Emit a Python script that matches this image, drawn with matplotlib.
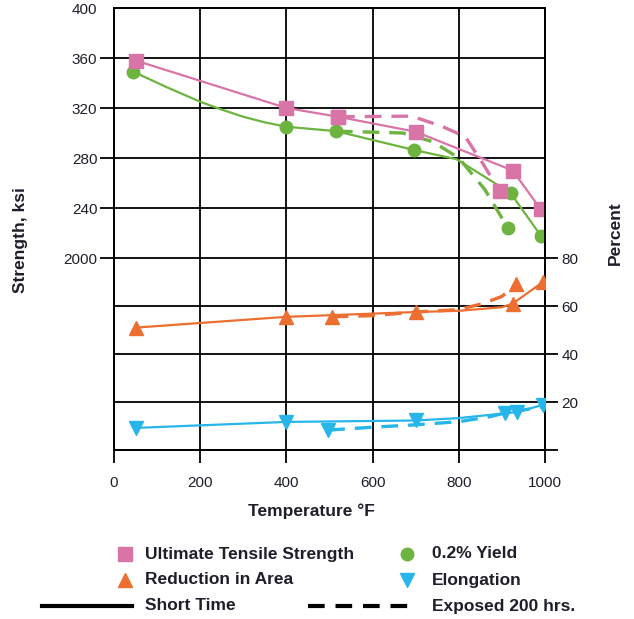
import matplotlib.pyplot as plt
from matplotlib.lines import Line2D

# temperature (F) and values
uts_short_x = [50, 400, 520, 700, 925, 990]
uts_short_y = [358, 320, 313, 301, 270, 239]
uts_exp_x = [520, 690, 760, 815, 855, 895]
uts_exp_y = [313, 313.5, 305.5, 297, 276, 253.5]

yld_short_x = [45, 120, 200, 250, 300, 350, 400, 515, 695, 795, 920, 990]
yld_short_y = [349, 337, 325, 318.7, 313, 308.5, 305, 301.5, 286.5, 279, 252, 218]
yld_exp_x = [515, 670, 740, 800, 860, 914]
yld_exp_y = [301.5, 300, 293, 280, 255, 224]

ra_short_x = [50, 400, 700, 800, 900, 925, 995]
ra_short_y = [51, 55.5, 57.5, 58, 59.5, 61, 70]
ra_exp_x = [505, 600, 700, 800, 855, 900, 932]
ra_exp_y = [55.5, 56, 57.5, 58.5, 61, 64, 69]

el_short_x = [50, 400, 700, 800, 935, 995]
el_short_y = [9.2, 11.7, 12.3, 13.3, 15.8, 18.8]
el_exp_x = [497, 600, 700, 800, 870, 907, 995]
el_exp_y = [8.3, 9.5, 10.5, 11.8, 13.8, 15.4, 18]

x_ticks = [0, 200, 400, 600, 800, 1000]
strength_ticks = [200, 240, 280, 320, 360, 400]
strength_labels = ['2000', '240', '280', '320', '360', '400']
pct_ticks = [0, 20, 40, 60, 80]
pct_labels = ['', '20', '40', '60', '80']

PINK = '#d874a6'
GREEN = '#6cb43f'
ORANGE = '#ec6f31'
BLUE = '#27b6ea'
TXT = '#1e1e2a'

plt.rcParams['font.family'] = ['Liberation Sans', 'DejaVu Sans']

W, H = 634, 619
fig = plt.figure(figsize=(W / 100, H / 100), dpi=100)
ax = fig.add_axes([114 / W, 1 - 450 / H, (545 - 114) / W, (450 - 8) / H])
ax2 = ax.twinx()

ax.set_xlim(0, 1000)
ax.set_ylim(46.4, 400)
ax2.set_ylim(0, 184.2)

# grid
for v in x_ticks[1:-1]:
    ax.axvline(v, color='black', lw=1.3, zorder=1)
for v in strength_ticks[1:-1]:
    ax.axhline(v, color='black', lw=1.3, zorder=1)
for v in pct_ticks[1:]:
    ax2.axhline(v, color='black', lw=1.3, zorder=1)

for a in (ax, ax2):
    for s in a.spines.values():
        s.set_linewidth(1.3)

ax.set_xticks(x_ticks)
ax.set_xticklabels([str(v) for v in x_ticks])
ax.set_yticks(strength_ticks)
ax.set_yticklabels(strength_labels)
ax.tick_params(axis='x', length=9.5, width=1.3, pad=9, labelsize=11, labelcolor=TXT)
ax.tick_params(axis='y', length=10, width=1.3, pad=2, labelsize=11, labelcolor=TXT)
ax.yaxis.get_major_ticks()[-1].tick1line.set_visible(False)

ax2.set_yticks(pct_ticks)
ax2.set_yticklabels(pct_labels)
ax2.tick_params(axis='y', length=9.5, width=1.3, pad=2.5, labelsize=11, labelcolor=TXT)

dash = (5, 3)
# strength curves
ax.plot(uts_short_x, uts_short_y, color=PINK, lw=1.6, marker='s', ms=10,
        markevery=[0, 1, 2, 3, 4, 5], zorder=4)
ax.plot(uts_exp_x, uts_exp_y, color=PINK, lw=2.4, ls='--', dashes=dash,
        marker='s', ms=10, markevery=[0, 5], zorder=4)
ax.plot(yld_short_x, yld_short_y, color=GREEN, lw=1.6, marker='o', ms=9,
        markevery=[0, 6, 7, 8, 10, 11], zorder=3)
ax.plot(yld_exp_x, yld_exp_y, color=GREEN, lw=2.4, ls='--', dashes=dash,
        marker='o', ms=9, markevery=[5], zorder=3)

# percent curves
ax2.plot(ra_short_x, ra_short_y, color=ORANGE, lw=1.6, marker='^', ms=10,
         markevery=[0, 1, 2, 5, 6], zorder=3)
ax2.plot(ra_exp_x, ra_exp_y, color=ORANGE, lw=2.4, ls='--', dashes=dash,
         marker='^', ms=10, markevery=[0, 6], zorder=3)
ax2.plot(el_short_x, el_short_y, color=BLUE, lw=1.6, marker='v', ms=10,
         markevery=[0, 1, 2, 4, 5], zorder=3)
ax2.plot(el_exp_x, el_exp_y, color=BLUE, lw=2.4, ls='--', dashes=dash,
         marker='v', ms=10, markevery=[0, 5], zorder=3)

# axis titles
fig.text(311 / W, 1 - 511 / H, 'Temperature °F', ha='center', va='center',
         fontsize=12.5, fontweight='bold', color=TXT)
fig.text(21 / W, 1 - 240 / H, 'Strength, ksi', ha='center', va='center',
         rotation=90, fontsize=12.5, fontweight='bold', color=TXT)
fig.text(615 / W, 1 - 233 / H, 'Percent', ha='center', va='center',
         rotation=90, fontsize=12.5, fontweight='bold', color=TXT)

# legend
def key_marker(xp, yp, marker, color, ms):
    fig.add_artist(Line2D([xp / W], [1 - yp / H], marker=marker, color=color,
                          ms=ms, ls='none', transform=fig.transFigure))


def key_line(x0, x1, yp, ls):
    kw = dict(color='black', lw=3, transform=fig.transFigure)
    if ls == '--':
        kw['dashes'] = (4, 2.6)
    fig.add_artist(Line2D([x0 / W, x1 / W], [1 - yp / H, 1 - yp / H], **kw))


def key_text(xp, yp, s):
    fig.text(xp / W, 1 - yp / H, s, ha='left', va='center', fontsize=12.5,
             fontweight='bold', color=TXT)


key_marker(125, 554, 's', PINK, 10)
key_text(145, 554, 'Ultimate Tensile Strength')
key_marker(407, 554, 'o', GREEN, 9)
key_text(432, 554, '0.2% Yield')
key_marker(125, 580, '^', ORANGE, 10)
key_text(145, 580, 'Reduction in Area')
key_marker(407, 580, 'v', BLUE, 10)
key_text(432, 580, 'Elongation')
key_line(42, 132, 606, '-')
key_text(145, 606, 'Short Time')
key_line(308, 415, 606, '--')
key_text(432, 606, 'Exposed 200 hrs.')

fig.savefig('out.png', dpi=100)
